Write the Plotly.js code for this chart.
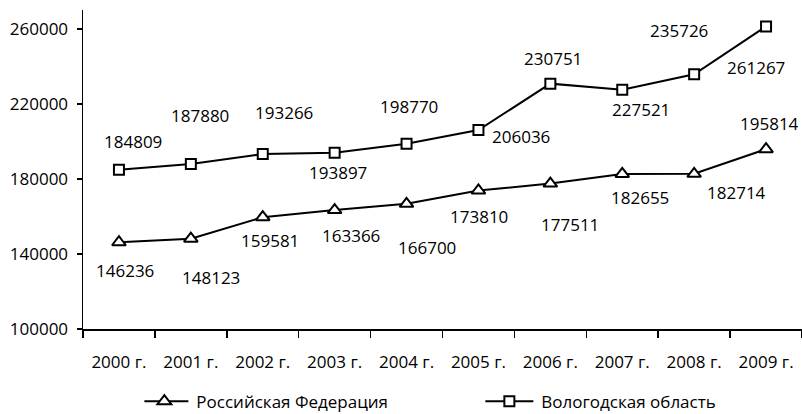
<!DOCTYPE html>
<html><head><meta charset="utf-8">
<script src="https://cdn.plot.ly/plotly-3.0.1.min.js"></script>
<style>html,body{margin:0;padding:0;background:#fff;}#chart{width:802px;height:414px;}</style>
</head><body><div id="chart"></div>
<script>
const years = ["2000 г.","2001 г.","2002 г.","2003 г.","2004 г.","2005 г.","2006 г.","2007 г.","2008 г.","2009 г."];
const russia = [146236,148123,159581,163366,166700,173810,177511,182655,182714,195814];
const vologda = [184809,187880,193266,193897,198770,206036,230751,227521,235726,261267];
const seriesNames = ["Российская Федерация","Вологодская область"];

// label offsets (pixels, label centre relative to point; dy positive = down)
const russiaDx = [6,20,7,16,20,1,20,18,42,3];
const russiaDy = [28,39,23,25,44,26,41,24,19,-26];
const vologdaDx = [14,9,21,3,2,43,3,19,-15,-10];
const vologdaDy = [-28,-49,-41,20,-37,6,-25,20,-44,41];

const FONT = "Open Sans, sans-serif";
const fsz = 17;

const traces = [
  {x: years, y: russia, name: seriesNames[0], type: "scatter", mode: "lines+markers",
   line: {color: "#000", width: 2},
   marker: {symbol: "triangle-up", size: 12, color: "#fff", line: {color: "#000", width: 2}}},
  {x: years, y: vologda, name: seriesNames[1], type: "scatter", mode: "lines+markers",
   line: {color: "#000", width: 2},
   marker: {symbol: "square", size: 10, color: "#fff", line: {color: "#000", width: 2}}}
];

const annotations = [];
function addLabels(vals, dx, dy) {
  vals.forEach((v, i) => {
    annotations.push({x: years[i], y: v, xref: "x", yref: "y", text: String(v), showarrow: false,
      xanchor: "center", yanchor: "middle", xshift: dx[i], yshift: -dy[i],
      font: {family: FONT, size: fsz, color: "#000"}});
  });
}
addLabels(russia, russiaDx, russiaDy);
addLabels(vologda, vologdaDx, vologdaDy);

const layout = {
  width: 802, height: 414,
  margin: {l: 83, r: 0, t: 10, b: 85},
  paper_bgcolor: "#fff", plot_bgcolor: "#fff",
  font: {family: FONT, size: fsz, color: "#000"},
  showlegend: true,
  legend: {orientation: "h", xref: "container", x: 0.18, xanchor: "left",
    yref: "container", y: 0.03, yanchor: "middle", bgcolor: "rgba(0,0,0,0)",
    font: {family: FONT, size: fsz, color: "#000"}, entrywidth: 300},
  xaxis: {type: "category", range: [-0.5, 9.5], showline: true, linecolor: "#000", linewidth: 1.5,
    ticks: "outside", tickson: "boundaries", ticklen: 7, tickwidth: 1.5, tickcolor: "#000",
    showgrid: false, zeroline: false, ticklabelstandoff: 17, fixedrange: true},
  yaxis: {range: [100000, 270000], tick0: 100000, dtick: 40000, tickformat: "d",
    showline: true, linecolor: "#000", linewidth: 1.5,
    ticks: "outside", ticklen: 5, tickwidth: 1.5, tickcolor: "#000",
    showgrid: false, zeroline: false, ticklabelstandoff: 5, fixedrange: true},
  annotations: annotations
};

Plotly.newPlot("chart", traces, layout, {displayModeBar: false, staticPlot: true}).then(gd => {
  // lengthen legend line samples like the original (Excel-style)
  gd.querySelectorAll(".legend .traces").forEach(g => {
    g.querySelectorAll(".legendlines path").forEach(p => p.setAttribute("d", "M-4,0h48"));
    const t = g.querySelector("text.legendtext");
    if (t) t.setAttribute("x", "52");
  });
});
</script>
</body></html>
